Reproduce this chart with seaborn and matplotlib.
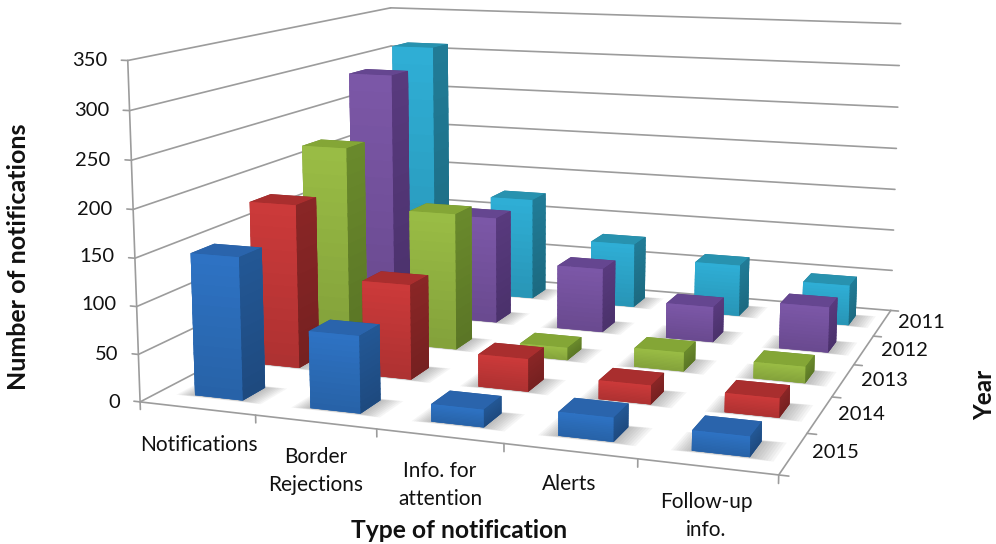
import numpy as np
import matplotlib
matplotlib.use("Agg")
import matplotlib.pyplot as plt
import seaborn as sns
from mpl_toolkits.mplot3d.art3d import Poly3DCollection

categories = ["Notifications", "Border\nRejections", "Info. for\nattention", "Alerts", "Follow-up\ninfo."]
years = [2015, 2014, 2013, 2012, 2011]
v2015 = [150, 80, 18, 24, 20]
v2014 = [180, 103, 35, 20, 20]
v2013 = [222, 155, 14, 21, 18]
v2012 = [290, 126, 75, 41, 52]
v2011 = [310, 125, 78, 62, 48]
series = [v2015, v2014, v2013, v2012, v2011]
z_ticks = [0, 50, 100, 150, 200, 250, 300, 350]

front_cols = ["#2E73C4", "#CC3A3A", "#9ABD45", "#7C57A8", "#2FAFD6"]
side_cols = ["#235795", "#8A2626", "#6A8A2C", "#583A7E", "#217C97"]
top_cols = ["#2A64AC", "#A92E2E", "#84A636", "#654690", "#2892AF"]
base_cols = ["#1F4F88", "#7A2020", "#5E7A26", "#4C326E", "#1C6C84"]
sns.set_theme(style="white", font="Lato")
front_pal = sns.color_palette(front_cols)
side_pal = sns.color_palette(side_cols)

W, H = 996, 544
bar_w, bar_d = 0.42, 0.38
bar_shift = 0.02

# Camera fitted from the outer box of the chart: (x, y, z) -> pixel position
box_3d = np.array([[0, 0, 0], [0, 0, 350], [0, 5, 350], [0, 5, 0], [5, 0, 0],
                   [5, 5, 0], [5, 5, 350], [0, 0, 300], [5, 5, 300], [5, 5, 250]], float)
box_px = np.array([[142, 402], [127, 60], [392, 8], [392, 270], [778, 476],
                   [892, 309], [901, 24], [129, 110], [899, 66], [897, 107]], float)


def fit_camera(pts, px):
    rows = []
    for (x, y, z), (u, v) in zip(pts, px):
        rows.append([x, y, z, 1, 0, 0, 0, 0, -u * x, -u * y, -u * z, -u])
        rows.append([0, 0, 0, 0, x, y, z, 1, -v * x, -v * y, -v * z, -v])
    P = np.linalg.svd(np.array(rows))[2][-1].reshape(3, 4)
    if P[2] @ np.array([0, 0, 0, 1]) < 0:
        P = -P
    P = P / P[2, 3]
    return np.vstack([P[0], P[1], [0, 0, 0, -1], P[2]])


M = fit_camera(box_3d, box_px)

fig = plt.figure(figsize=(W / 100, H / 100), dpi=100, facecolor="white")
ax = fig.add_subplot(projection="3d", computed_zorder=False)
ax.set_proj_type("ortho")
ax.set_position([0, 0, 1, 1])
ax.apply_aspect = lambda position=None: None
ax.get_proj = lambda: M
ax.set_axis_off()

gc = "#9C9C9C"


def seg(p, q, lw=1.2):
    ax.plot([p[0], q[0]], [p[1], q[1]], [p[2], q[2]], color=gc, lw=lw, zorder=1)


def shaded_face(corner_a, corner_b, value, rgb, zorder, steps=14):
    """Paint a vertical face as stacked strips, light at the top and dark at the base."""
    rgb = np.array(rgb)
    for k in range(steps):
        z0 = value * k / steps
        z1 = value * min(k + 1.3, steps) / steps
        t = (k + 0.5) / steps
        col = np.clip(rgb * (0.85 + 0.15 * t), 0, 1)
        quad = [(*corner_a, z0), (*corner_b, z0), (*corner_b, z1), (*corner_a, z1)]
        ax.add_collection3d(Poly3DCollection([quad], facecolors=[tuple(col)],
                                             edgecolors="none", zorder=zorder))


# Walls, floor outline and tick marks
for v in z_ticks:
    seg((0, 0, v), (0, 5, v))
    seg((0, 5, v), (5, 5, v))
    seg((0, 0, v), (-0.055, 0, v))
seg((0, 0, 0), (0, 0, 350))
seg((0, 0, 0), (5, 0, 0))
seg((5, 0, 0), (5, 5, 0))
for i in range(6):
    seg((i, 0, 0), (i, 0, -8))
for j in range(6):
    seg((5, j, 0), (5.07, j, 0))

# Soft floor shadows below each bar
for j in range(5):
    for i in range(5):
        cx, cy = i + 0.5 + bar_shift, j + 0.5
        for grow in np.linspace(0.16, 0.02, 8):
            x0, x1 = cx - bar_w / 2 - grow * 0.9, cx + bar_w / 2 + grow * 1.1
            y0, y1 = cy - bar_d / 2 - grow * 0.25, cy + bar_d / 2 + grow * 0.25
            ax.add_collection3d(Poly3DCollection(
                [[(x0, y0, 0), (x1, y0, 0), (x1, y1, 0), (x0, y1, 0)]],
                facecolors=[(0.3, 0.3, 0.3, 0.05)], edgecolors="none", zorder=2))

# Bars, painted from the back row forward and left to right
z = 3
for j in reversed(range(5)):
    colors = [base_cols[j], top_cols[j], front_cols[j], side_cols[j], side_cols[j], side_cols[j]]
    for i, value in enumerate(series[j]):
        x0 = i + 0.5 + bar_shift - bar_w / 2
        y0 = j + 0.5 - bar_d / 2
        ax.bar3d(x0, y0, 0, bar_w, bar_d, value, color=colors, shade=False,
                 edgecolor="none", zorder=z)
        shaded_face((x0, y0), (x0 + bar_w, y0), value, front_pal[j], z + 1)
        shaded_face((x0 + bar_w, y0), (x0 + bar_w, y0 + bar_d), value, side_pal[j], z + 1)
        z += 2

ax.viewLim.intervalx = (0, W)
ax.viewLim.intervaly = (H, 0)


def label(x, y, s, **kw):
    fig.text(x / W, 1 - y / H, s, color=kw.pop("color", "#111111"), ha=kw.pop("ha", "center"),
             va="center", **kw)


tick_right = [120, 118, 116, 114, 112, 110, 109, 107]
tick_y = [402, 354, 305, 257, 209, 160, 110, 60]
for v, xr, yy in zip(z_ticks, tick_right, tick_y):
    label(xr, yy, str(v), ha="right", fontsize=14.5)
cat_pos = [(199, 445), (316, 471), (440, 485), (569, 484), (706, 516)]
for name, (px, py) in zip(categories, cat_pos):
    label(px, py, name, fontsize=15, linespacing=1.5)
year_pos = [(835, 453), (861, 414), (884, 380), (904, 350), (921, 322)]
for yr, (px, py) in zip(years, year_pos):
    label(px, py, str(yr), fontsize=14.5)
label(19, 257, "Number of notifications", rotation=90, fontsize=18, fontweight="bold")
label(459, 531, "Type of notification", fontsize=17.7, fontweight="bold")
label(985, 395, "Year", rotation=90, fontsize=17.5, fontweight="bold")

fig.savefig("out.png", dpi=100, facecolor="white")
